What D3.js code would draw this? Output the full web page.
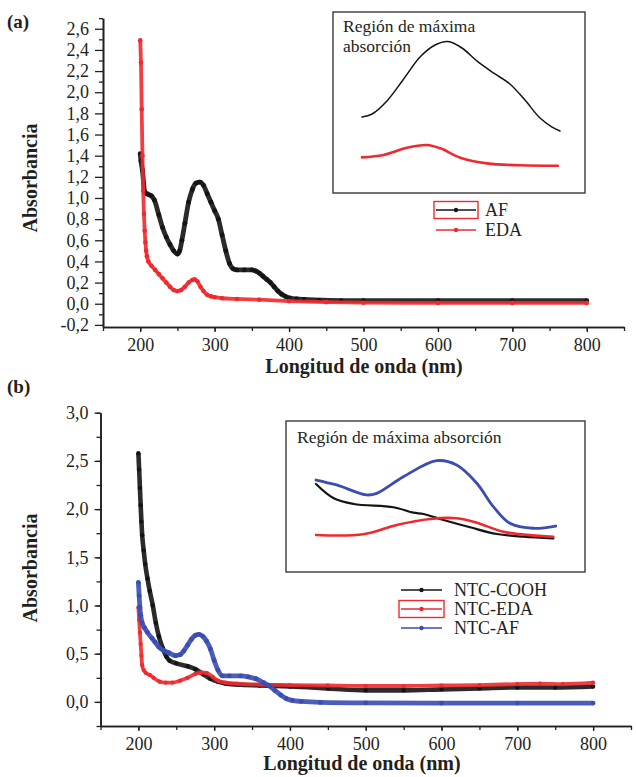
<!DOCTYPE html>
<html><head><meta charset="utf-8">
<script src="https://cdn.jsdelivr.net/npm/d3@7"></script>
<style>
html,body{margin:0;padding:0;background:#fff;}
svg text{font-family:"Liberation Serif","Times New Roman",serif;fill:#231f20;}
</style></head>
<body><svg id="c" width="636" height="777"></svg>
<script>
// ---------- Panel (a) data ----------
const afWave = [200,201,203,206,209,212,215,219,225,230,235,240,245,250,253,256,260,265,270,275,280,285,290,295,300,305,310,315,320,325,330,340,350,355,360,365,370,375,380,385,390,395,400,410,420,440,470,500,600,700,800];
const afAbs  = [1.42,1.35,1.26,1.06,1.04,1.03,1.02,0.98,0.84,0.72,0.63,0.56,0.5,0.47,0.5,0.6,0.76,0.96,1.08,1.14,1.15,1.12,1.04,0.96,0.88,0.8,0.65,0.5,0.38,0.33,0.32,0.32,0.32,0.31,0.29,0.26,0.23,0.2,0.16,0.12,0.09,0.07,0.055,0.045,0.04,0.035,0.03,0.03,0.028,0.028,0.028];
const edaWave = [200,201,202,203,204,205,206,207,208,209,211,215,220,225,230,235,240,245,250,255,260,265,270,273,277,281,285,290,295,300,310,330,360,400,450,500,600,700,800];
const edaAbs  = [2.49,2.28,1.84,1.4,1.07,0.85,0.69,0.58,0.5,0.45,0.4,0.36,0.32,0.28,0.24,0.2,0.16,0.13,0.12,0.13,0.16,0.2,0.225,0.23,0.21,0.16,0.12,0.085,0.07,0.062,0.052,0.045,0.038,0.025,0.015,0.01,0.008,0.008,0.008];

// inset (a): relative position across region (0-100) and relative absorbance
const insAx_AF  = [0,5.1,12.6,20.7,29.3,36.9,43.4,50.5,58.6,67.2,74.7,82.3,89.9,96,100];
const insAy_AF  = [0.42,0.44,0.527,0.667,0.82,0.9,0.923,0.88,0.787,0.707,0.64,0.533,0.413,0.353,0.327];
const insAx_EDA = [0,10.9,22.7,32.8,39.6,49.7,63.1,79.9,98.9];
const insAy_EDA = [0.151,0.167,0.215,0.233,0.211,0.149,0.111,0.098,0.095];

// ---------- Panel (b) data ----------
const coohWave = [200,201,202,203,204,205,207,209,212,215,219,223,227,232,237,241,250,265,275,285,295,305,315,330,360,400,450,500,550,600,650,700,750,800];
const coohAbs  = [2.58,2.41,2.22,2.04,1.87,1.73,1.57,1.43,1.28,1.15,1.0,0.82,0.68,0.56,0.47,0.43,0.4,0.37,0.34,0.29,0.24,0.21,0.19,0.18,0.17,0.16,0.14,0.12,0.12,0.13,0.14,0.15,0.15,0.16];
const ntcEdaWave = [200,201,202,203,204,205,207,210,215,220,228,236,245,255,265,275,283,290,298,305,315,330,360,400,450,500,550,600,650,700,730,760,800];
const ntcEdaAbs  = [0.98,0.85,0.72,0.6,0.48,0.38,0.33,0.3,0.28,0.25,0.21,0.2,0.2,0.22,0.25,0.29,0.305,0.3,0.26,0.22,0.2,0.19,0.18,0.175,0.17,0.165,0.165,0.17,0.175,0.185,0.19,0.185,0.2];
const ntcAfWave = [200,201,202,203,205,208,212,218,222,227,232,240,249,255,260,265,270,275,280,285,290,295,300,305,311,320,335,345,355,365,372,380,388,395,403,415,440,500,600,700,800];
const ntcAfAbs  = [1.24,1.1,0.98,0.9,0.82,0.77,0.72,0.66,0.62,0.57,0.54,0.51,0.48,0.49,0.53,0.59,0.65,0.69,0.7,0.68,0.63,0.55,0.43,0.33,0.27,0.27,0.27,0.26,0.24,0.2,0.17,0.12,0.07,0.035,0.015,0.005,-0.005,-0.01,-0.012,-0.012,-0.012];

// inset (b)
const insBx_COOH = [0,7.4,15.7,32.3,40.6,44.8,53.1,64.2,75.3,86.4,98.9];
const insBy_COOH = [0.678,0.519,0.456,0.419,0.359,0.344,0.278,0.197,0.122,0.092,0.074];
const insBx_EDA  = [0,19.7,33.6,47.5,58.6,67,78,98.9];
const insBy_EDA  = [0.111,0.119,0.222,0.289,0.297,0.248,0.148,0.092];
const insBx_AF   = [0,8.6,21.1,25.3,36.4,50.3,58.6,67,73.9,80.8,90.6,99.9];
const insBy_AF   = [0.722,0.667,0.556,0.574,0.759,0.937,0.889,0.686,0.426,0.241,0.186,0.211];

const yTicksA = [-0.2,0,0.2,0.4,0.6,0.8,1.0,1.2,1.4,1.6,1.8,2.0,2.2,2.4,2.6];
const yTicksB = [0,0.5,1.0,1.5,2.0,2.5,3.0];
const xTicks = [200,300,400,500,600,700,800];
const legendA = ["AF","EDA"];
const legendB = ["NTC-COOH","NTC-EDA","NTC-AF"];

const BLACK="#141414", RED="#ee2a2e", BLUE="#3a4db0";
const svg = d3.select("#c");
const fmt = v => v.toFixed(1).replace(".", ",");
const zip = (xs, ys) => xs.map((x,i)=>({x, y: ys[i]}));

function axes(x, y, yTicks, yMinor, xMinor, bottomY, majorLen) {
  const gx = svg.append("g").attr("transform",`translate(0,${bottomY})`);
  gx.call(d3.axisBottom(x).tickValues(xMinor).tickSize(4).tickSizeOuter(0).tickFormat(""));
  gx.call(g=>g.selectAll(".tick text").remove());
  const gx2 = svg.append("g").attr("transform",`translate(0,${bottomY})`);
  gx2.call(d3.axisBottom(x).tickValues(xTicks).tickSize(5).tickSizeOuter(0).tickPadding(6).tickFormat(d3.format("d")));
  const gy = svg.append("g").attr("transform",`translate(${x.range()[0]},0)`);
  gy.call(d3.axisLeft(y).tickValues(yMinor).tickSize(4).tickSizeOuter(0).tickFormat(""));
  const gy2 = svg.append("g").attr("transform",`translate(${x.range()[0]},0)`);
  gy2.call(d3.axisLeft(y).tickValues(yTicks).tickSize(majorLen).tickSizeOuter(0).tickPadding(6).tickFormat(fmt));
  svg.selectAll(".domain").attr("stroke","#231f20").attr("stroke-width",1.6);
  svg.selectAll(".tick line").attr("stroke","#231f20").attr("stroke-width",1.3);
  svg.selectAll(".tick text").attr("font-size",18).attr("font-family","Liberation Serif, serif").attr("fill","#231f20");
}

function series(x, y, data, color, width, r) {
  const line = d3.line().x(d=>x(d.x)).y(d=>y(d.y)).curve(d3.curveMonotoneX);
  svg.append("path").datum(data).attr("d", line).attr("fill","none")
    .attr("stroke", color).attr("stroke-width", width).attr("stroke-opacity",0.9).attr("stroke-linejoin","round");
  svg.append("g").selectAll("circle").data(data).join("circle")
    .attr("cx", d=>x(d.x)).attr("cy", d=>y(d.y)).attr("r", r).attr("fill", color);
}

function inset(box, xr, yr, sets, titleLines, tx, ty) {
  svg.append("rect").attr("x",box[0]).attr("y",box[1]).attr("width",box[2]-box[0]).attr("height",box[3]-box[1])
    .attr("fill","none").attr("stroke","#3a3a3a").attr("stroke-width",1.4);
  const ix = d3.scaleLinear([0,100], xr);
  const iy = d3.scaleLinear([0,1], yr);
  const line = d3.line().x(d=>ix(d.x)).y(d=>iy(d.y)).curve(d3.curveCatmullRom.alpha(0.5));
  sets.forEach(s => svg.append("path").datum(s.data).attr("d", line).attr("fill","none")
    .attr("stroke", s.color).attr("stroke-width", s.w).attr("stroke-linecap","round"));
  titleLines.forEach((t,i)=> svg.append("text").attr("x",tx).attr("y",ty+i*19.5).attr("font-size",17.5).text(t));
}

function legend(names, colors, boxed, x0, x1, tx, ys) {
  names.forEach((n,i)=>{
    const yy = ys[i];
    if (boxed === i) svg.append("rect").attr("x",x0-2).attr("y",yy-8.5).attr("width",x1-x0+4).attr("height",17)
      .attr("fill","none").attr("stroke",RED).attr("stroke-width",1.4);
    svg.append("line").attr("x1",x0).attr("x2",x1).attr("y1",yy).attr("y2",yy).attr("stroke",colors[i]).attr("stroke-width",1.6);
    svg.append("circle").attr("cx",(x0+x1)/2).attr("cy",yy).attr("r",2.2).attr("fill",colors[i]);
    svg.append("text").attr("x",tx).attr("y",yy+6).attr("font-size",18).text(n);
  });
}

function labels(pl, ply, cx, xly, ycy) {
  svg.append("text").attr("x",7).attr("y",ply).attr("font-size",19).attr("font-weight","bold").text(pl);
  svg.append("text").attr("x",cx).attr("y",xly).attr("text-anchor","middle").attr("font-size",20).attr("font-weight","bold").text("Longitud de onda (nm)");
  svg.append("text").attr("transform",`translate(37,${ycy}) rotate(-90)`).attr("text-anchor","middle").attr("font-size",20).attr("font-weight","bold").text("Absorbancia");
}

// ---------- Panel (a) ----------
const xA = d3.scaleLinear([150,850],[103,624]);
const yA = d3.scaleLinear([-0.22,2.7],[327,18.2]);
const xMinor = d3.range(150,851,50);
axes(xA, yA, yTicksA, d3.range(-0.1,2.71,0.2), xMinor, 327, 8);
series(xA, yA, zip(afWave, afAbs), BLACK, 4.8, 2.4);
series(xA, yA, zip(edaWave, edaAbs), RED, 3.8, 2.3);
inset([333,12,585,193],[362,560],[180,30],[
  {data: zip(insAx_AF, insAy_AF), color: BLACK, w: 1.5},
  {data: zip(insAx_EDA, insAy_EDA), color: RED, w: 2.6}
], ["Región de máxima","absorción"], 343, 32);
legend(legendA, [BLACK, RED], 0, 436, 476, 485, [210, 230]);
labels("(a)", 28, 364, 373, 178);

// ---------- Panel (b) ----------
const xB = d3.scaleLinear([150,850],[100.5,631]);
const yB = d3.scaleLinear([-0.25,3.0],[726,412.7]);
axes(xB, yB, yTicksB, d3.range(-0.25,3.01,0.25), xMinor, 726, 6);
series(xB, yB, zip(coohWave, coohAbs), BLACK, 4.6, 2.2);
series(xB, yB, zip(ntcEdaWave, ntcEdaAbs), RED, 3.8, 2.1);
series(xB, yB, zip(ntcAfWave, ntcAfAbs), BLUE, 4.8, 2.4);
inset([286,421,585,572],[316,556],[545,455],[
  {data: zip(insBx_COOH, insBy_COOH), color: BLACK, w: 2.2},
  {data: zip(insBx_EDA, insBy_EDA), color: RED, w: 2.6},
  {data: zip(insBx_AF, insBy_AF), color: BLUE, w: 2.8}
], ["Región de máxima absorción"], 297, 443);
legend(legendB, [BLACK, RED, BLUE], 1, 401, 442, 454, [590, 609, 628]);
labels("(b)", 393, 362, 770, 568);
</script></body></html>
